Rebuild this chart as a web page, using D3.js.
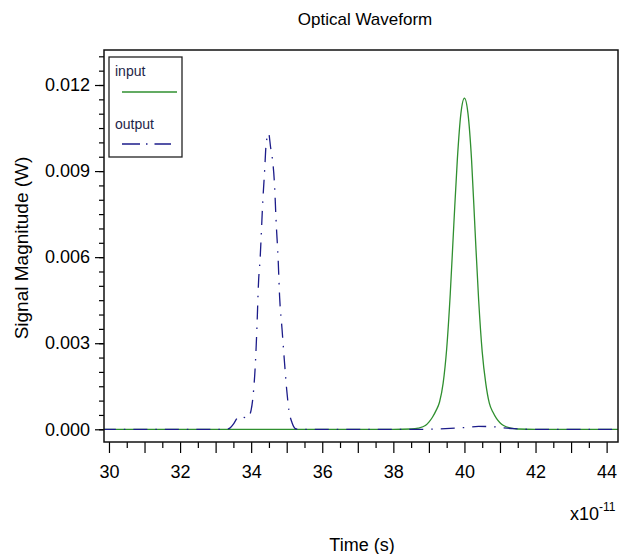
<!DOCTYPE html>
<html>
<head>
<meta charset="utf-8">
<script src="https://cdn.jsdelivr.net/npm/d3@7"></script>
<style>
  body { margin: 0; background: #fff; }
  text { font-family: "Liberation Sans", Arial, sans-serif; }
</style>
</head>
<body>
<div id="chart"></div>
<script>
// time axis is in units of 1e-11 s
var inputTime = [29.8, 38.0, 38.5, 38.7, 38.9, 39.0, 39.1, 39.2, 39.3, 39.4, 39.5, 39.6, 39.7, 39.8, 39.9, 40.0,
                 40.1, 40.2, 40.3, 40.4, 40.5, 40.6, 40.7, 40.8, 40.9, 41.0, 41.1, 41.3, 41.5, 42.0, 44.4];
var inputValue = [0, 0, 0.00001, 0.00004, 0.00013, 0.00025, 0.00042, 0.00065, 0.00095, 0.0016, 0.0028, 0.0047, 0.0071, 0.0094, 0.0110, 0.01154,
                  0.0110, 0.0094, 0.0069, 0.0045, 0.0027, 0.0016, 0.00091, 0.0006, 0.00038, 0.00023, 0.00013, 0.00004, 0.00001, 0, 0];

var outputTime = [29.8, 33.3, 33.4, 33.5, 33.6, 33.65, 33.75, 33.9, 34.0, 34.07, 34.12, 34.16, 34.21, 34.25, 34.29, 34.32, 34.38, 34.42, 34.49,
                  34.55, 34.59, 34.66, 34.7, 34.76, 34.8, 34.87, 34.94, 35.0, 35.06, 35.15, 35.27, 35.4,
                  38.8, 39.2, 39.6, 40.0, 40.4, 40.8, 41.1, 41.4, 41.8, 44.4];
var outputValue = [0, 0, 0.00004, 0.00018, 0.00038, 0.00045, 0.00043, 0.00039, 0.00068, 0.00138, 0.00232, 0.00347, 0.0052, 0.0059, 0.00695, 0.00777, 0.00904, 0.00992, 0.01032,
                   0.0098, 0.0095, 0.00846, 0.0073, 0.0059, 0.00463, 0.00347, 0.0023, 0.00138, 0.00068, 0.00023, 0.00001, 0,
                   0, 0.00001, 0.00003, 0.00006, 0.0001, 0.00009, 0.00005, 0.00002, 0, 0];

var xTicks = [30, 32, 34, 36, 38, 40, 42, 44];
var yTicks = [0, 0.003, 0.006, 0.009, 0.012];
var seriesNames = ["input", "output"];

var inputData = inputTime.map(function(t, i) { return {t: t, v: inputValue[i]}; });
var outputData = outputTime.map(function(t, i) { return {t: t, v: outputValue[i]}; });

var W = 628, H = 554;
var box = {left: 104, right: 618, top: 50, bottom: 442};

var svg = d3.select("#chart").append("svg")
    .attr("width", W)
    .attr("height", H);

svg.append("rect").attr("width", W).attr("height", H).attr("fill", "#fff");

var x = d3.scaleLinear()
    .domain([29.86, 44.32])
    .range([box.left, box.right]);

var y = d3.scaleLinear()
    .domain([-0.000443, 0.01322])
    .range([box.bottom, box.top]);

// clip for the data lines
svg.append("clipPath").attr("id", "clip")
  .append("rect")
    .attr("x", box.left).attr("y", box.top)
    .attr("width", box.right - box.left).attr("height", box.bottom - box.top);

// x axis, minor ticks every 0.5, major every 1, labels every 2
var xMinor = d3.range(30, 44.01, 0.5);
var xAxisMinor = svg.append("g")
    .attr("transform", "translate(0," + box.bottom + ")")
    .call(d3.axisBottom(x).tickValues(xMinor.filter(function(d) { return d % 1 !== 0; })).tickSize(6).tickFormat(""));
var xAxisMajor = svg.append("g")
    .attr("transform", "translate(0," + box.bottom + ")")
    .call(d3.axisBottom(x).tickValues(d3.range(30, 44.01, 1)).tickSize(11).tickFormat(""));
svg.append("g")
    .attr("transform", "translate(0," + box.bottom + ")")
    .call(d3.axisBottom(x).tickValues(xTicks).tickSize(0).tickPadding(0).tickFormat(d3.format("d")))
    .call(function(g) {
      g.selectAll("text").attr("y", 36).attr("dy", 0)
        .style("font-size", "18px").attr("fill", "#000")
        .style("font-family", "'Liberation Sans', Arial, sans-serif");
    });

// y axis, minor ticks every 0.0005
var yMinor = d3.range(0, 0.01301, 0.0005);
svg.append("g")
    .attr("transform", "translate(" + box.left + ",0)")
    .call(d3.axisLeft(y).tickValues(yMinor).tickSize(5).tickFormat(""));
svg.append("g")
    .attr("transform", "translate(" + box.left + ",0)")
    .call(d3.axisLeft(y).tickValues(yTicks).tickSize(9).tickPadding(5).tickFormat(d3.format(".3f")))
    .call(function(g) {
      g.selectAll("text").style("font-size", "18px").attr("fill", "#000")
        .style("font-family", "'Liberation Sans', Arial, sans-serif");
    });

svg.selectAll(".domain").remove();
svg.selectAll(".tick line").attr("stroke", "#000").attr("stroke-width", 1.2);

// data lines
var line = d3.line()
    .curve(d3.curveMonotoneX)
    .x(function(d) { return x(d.t); })
    .y(function(d) { return y(d.v); });

var plot = svg.append("g").attr("clip-path", "url(#clip)");

plot.append("path")
    .datum(inputData)
    .attr("fill", "none")
    .attr("stroke", "#2f8f2f")
    .attr("stroke-width", 1.3)
    .attr("d", line);

plot.append("path")
    .datum(outputData)
    .attr("fill", "none")
    .attr("stroke", "#1c1c8a")
    .attr("stroke-width", 1.3)
    .attr("stroke-dasharray", "14,8,1.5,8")
    .attr("d", line);

// frame
svg.append("rect")
    .attr("x", box.left).attr("y", box.top)
    .attr("width", box.right - box.left).attr("height", box.bottom - box.top)
    .attr("fill", "none")
    .attr("stroke", "#111")
    .attr("stroke-width", 1.5);

// legend
var legend = svg.append("g");
legend.append("rect")
    .attr("x", 109).attr("y", 57).attr("width", 73).attr("height", 100)
    .attr("fill", "#fff").attr("stroke", "#222").attr("stroke-width", 1.3);
legend.append("text").text(seriesNames[0])
    .attr("x", 115).attr("y", 76).style("font-size", "14px").attr("fill", "#1e2548");
legend.append("line")
    .attr("x1", 122).attr("x2", 177).attr("y1", 92).attr("y2", 92)
    .attr("stroke", "#2f8f2f").attr("stroke-width", 1.5);
legend.append("text").text(seriesNames[1])
    .attr("x", 115).attr("y", 129).style("font-size", "14px").attr("fill", "#1e2548");
legend.append("line")
    .attr("x1", 122).attr("x2", 171).attr("y1", 144).attr("y2", 144)
    .attr("stroke", "#1c1c8a").attr("stroke-width", 1.5)
    .attr("stroke-dasharray", "18,6,1.5,7");

// titles
svg.append("text")
    .text("Optical Waveform")
    .attr("x", 365).attr("y", 25)
    .style("text-anchor", "middle")
    .style("font-size", "17px");

svg.append("text")
    .text("Time (s)")
    .attr("x", 362).attr("y", 551)
    .style("text-anchor", "middle")
    .style("font-size", "18px");

var sci = svg.append("text")
    .attr("x", 570).attr("y", 520)
    .style("font-size", "18px");
sci.append("tspan").text("x10");
sci.append("tspan").text("-11").attr("dy", -9).style("font-size", "12px");

svg.append("text")
    .text("Signal Magnitude (W)")
    .attr("transform", "translate(28," + 248 + ") rotate(-90)")
    .style("text-anchor", "middle")
    .style("font-size", "19px");
</script>
</body>
</html>
